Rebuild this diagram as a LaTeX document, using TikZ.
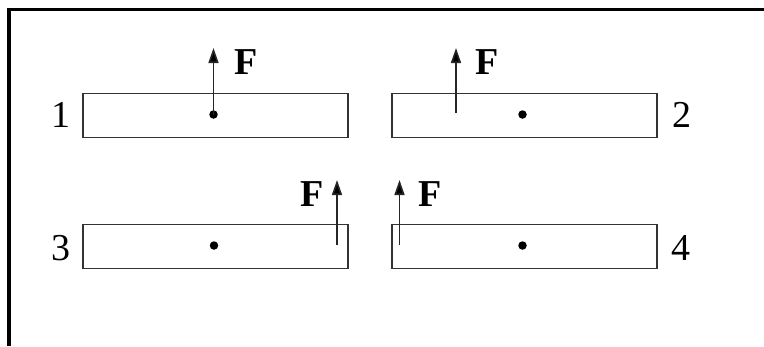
\documentclass[tikz,border=0pt]{standalone}
\usepackage{fontspec}
\setmainfont{Liberation Serif}
\usetikzlibrary{arrows.meta}
\begin{document}
\begin{tikzpicture}[x=1pt,y=-1pt,
  bar/.style={draw=black!80,line width=1.6pt,minimum width=265pt,minimum height=44pt,inner sep=0pt,anchor=north west},
  cdot/.style={circle,fill=black,minimum size=8.5pt,inner sep=0pt},
  force/.style={draw=black!85,line width=1.6pt,-{Triangle[length=15pt,width=10pt,fill=black]}},
  flabel/.style={font=\fontsize{38}{40}\selectfont\bfseries,inner sep=0pt,anchor=base west},
  num/.style={font=\fontsize{38}{40}\selectfont,inner sep=0pt,anchor=base}]
\useasboundingbox (0,0) rectangle (764,346);
\draw[line width=3.5pt] (8.75,346) -- (8.75,9.5) -- (764,9.5);
% bars
\node[bar] (r1) at (82,92.5) {};
\node[bar] (r2) at (391,92.5) {};
\node[bar] (r3) at (82,223.5) {};
\node[bar] (r4) at (391,223.5) {};
% centres
\node[cdot] (d1) at (213.5,114.5) {};
\node[cdot] (d2) at (522.5,114.5) {};
\node[cdot] (d3) at (214,245.5) {};
\node[cdot] (d4) at (522.5,245.5) {};
% force points and tips
\coordinate (t1) at (213.5,48);
\coordinate (s2) at (456,113);
\coordinate (t2) at (456,48);
\coordinate (s3) at (337,245);
\coordinate (t3) at (337,180);
\coordinate (s4) at (399.5,245);
\coordinate (t4) at (399.5,180);
\draw[force] (d1.center) -- (t1);
\draw[force] (s2) -- (t2);
\draw[force] (s3) -- (t3);
\draw[force] (s4) -- (t4);
% labels
\node[flabel] (f1) at (234,74) {F};
\node[flabel] (f2) at (475,74) {F};
\node[flabel] (f3) at (300,206) {F};
\node[flabel] (f4) at (418,206) {F};
\node[num] (n1) at (61,127) {1};
\node[num] (n2) at (682,127) {2};
\node[num] (n3) at (61,260) {3};
\node[num] (n4) at (681,260) {4};
\end{tikzpicture}
\end{document}
